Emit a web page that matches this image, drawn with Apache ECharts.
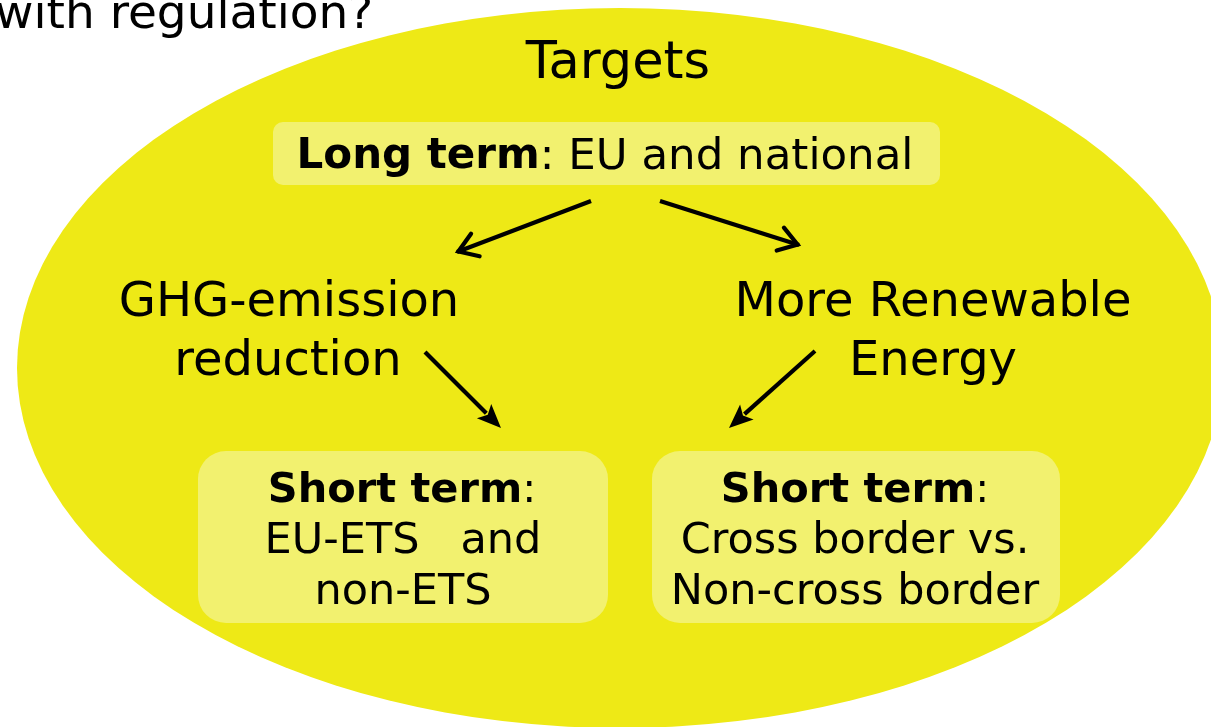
<!DOCTYPE html>
<html>
<head>
<meta charset="utf-8">
<script src="https://cdn.jsdelivr.net/npm/echarts@6/dist/echarts.min.js"></script>
<style>
html,body{margin:0;padding:0;background:#fff;}
#c{width:1211px;height:727px;}
</style>
</head>
<body>
<div id="c"></div>
<script>
// ---- content (texts) ----
const headerText = 'with regulation?';
const titleText = 'Targets';
const longTermText = ['Long term', ': EU and national'];
const leftGoalLines = ['GHG-emission', 'reduction'];
const rightGoalLines = ['More Renewable', 'Energy'];
const leftShortLines = ['Short term', ':', 'EU-ETS   and', 'non-ETS'];
const rightShortLines = ['Short term', ':', 'Cross border vs.', 'Non-cross border'];

// ---- layout & style ----
const FONT = '"DejaVu Sans", Verdana, sans-serif';
const YELLOW = '#EEE916';
const LIGHT = '#F2F16F';
const chart = echarts.init(document.getElementById('c'), null, {renderer: 'canvas'});

const els = [];
// big ellipse
els.push({type: 'circle', x: 620, y: 368, scaleX: 603 / 360, scaleY: 1,
  shape: {cx: 0, cy: 0, r: 360}, style: {fill: YELLOW}, silent: true});

function label(text, cx, baseline, size, bold, align) {
  return {type: 'text', x: cx, y: baseline - size * 0.23, style: {
    text: text, fontFamily: FONT, fontSize: size, fontWeight: bold ? 'bold' : 'normal',
    fill: '#000', textAlign: align || 'center', textVerticalAlign: 'middle'}};
}
function richLabel(boldPart, normalPart, cx, baseline, size, size2) {
  return {type: 'text', x: cx, y: baseline - size * 0.23, style: {
    text: '{b|' + boldPart + '}{n|' + normalPart + '}',
    fill: '#000', textAlign: 'center', textVerticalAlign: 'middle',
    rich: {
      b: {fontFamily: FONT, fontSize: size, fontWeight: 'bold', fill: '#000'},
      n: {fontFamily: FONT, fontSize: size2 || size, fontWeight: 'normal', fill: '#000'}
    }}};
}
function box(x, y, w, h, r) {
  return {type: 'rect', shape: {x: x, y: y, width: w, height: h, r: r}, style: {fill: LIGHT}};
}

// header
els.push(label(headerText, -5, 27, 47, false, 'left'));

// title
els.push(label(titleText, 618, 76, 51, false));

// long term box
els.push(box(273, 122, 667, 63, 10));
els.push(richLabel(longTermText[0], longTermText[1], 605, 167, 42, 43.5));

// goals
els.push(label(leftGoalLines[0], 289, 315, 48, false));
els.push(label(leftGoalLines[1], 288, 374, 48, false));
els.push(label(rightGoalLines[0], 933, 315, 48, false));
els.push(label(rightGoalLines[1], 933, 374, 48, false));

// short-term boxes
els.push(box(198, 451, 410, 172, 28));
els.push(box(652, 451, 408, 172, 28));
els.push(richLabel(leftShortLines[0], leftShortLines[1], 402, 501, 41.5));
els.push(label(leftShortLines[2], 403, 552, 43, false));
els.push(label(leftShortLines[3], 403, 603, 43, false));
els.push(richLabel(rightShortLines[0], rightShortLines[1], 855, 501, 41.5));
els.push(label(rightShortLines[2], 855, 552, 43, false));
els.push(label(rightShortLines[3], 855, 603, 43, false));

// arrows
function arrow(x1, y1, x2, y2, filled) {
  const a = Math.atan2(y2 - y1, x2 - x1);
  const L = filled ? 26 : 23, half = filled ? 0.40 : 0.55;
  const p1 = [x2 - L * Math.cos(a - half), y2 - L * Math.sin(a - half)];
  const p2 = [x2 - L * Math.cos(a + half), y2 - L * Math.sin(a + half)];
  const endX = filled ? x2 - (L * 0.8) * Math.cos(a) : x2;
  const endY = filled ? y2 - (L * 0.8) * Math.sin(a) : y2;
  els.push({type: 'line', shape: {x1: x1, y1: y1, x2: endX, y2: endY},
    style: {stroke: '#000', lineWidth: 4.2, lineCap: 'butt'}});
  if (filled) {
    els.push({type: 'polygon', shape: {points: [p1, [x2, y2], p2, [x2 - L * 0.72 * Math.cos(a), y2 - L * 0.72 * Math.sin(a)]]},
      style: {fill: '#000'}});
  } else {
    els.push({type: 'polyline', shape: {points: [p1, [x2 - 1.5 * Math.cos(a), y2 - 1.5 * Math.sin(a)], p2]},
      style: {stroke: '#000', lineWidth: 4.2, lineJoin: 'miter', lineCap: 'round', fill: null}});
  }
}
arrow(591, 201, 457, 252, false);
arrow(660, 201, 799, 245, false);
arrow(425, 352, 501, 428, true);
arrow(815, 351, 729, 428, true);

chart.setOption({animation: false, graphic: {elements: els}});
</script>
</body>
</html>
